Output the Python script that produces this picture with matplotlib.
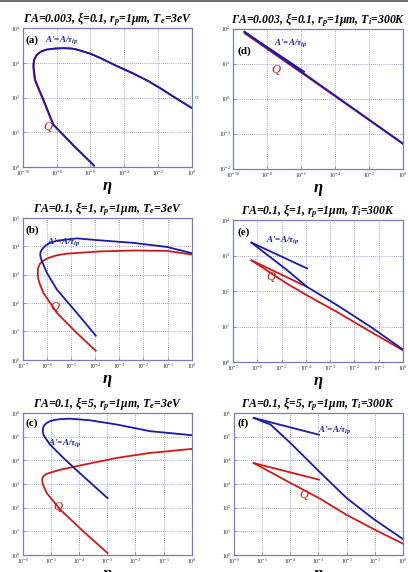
import matplotlib
matplotlib.use('Agg')
import matplotlib.pyplot as plt
import numpy as np
from matplotlib.ticker import LogLocator, NullLocator
from matplotlib.lines import Line2D

plt.rcParams['font.family'] = ['Liberation Serif', 'DejaVu Serif']
plt.rcParams['mathtext.default'] = 'regular'

BLUE = '#1a1aa8'
RED = '#cc1a1a'

# ---- panel (a): GA=0.003, xi=0.1, Te=3eV
a_eta_A = [1.66e-6, 1.0e-7, 6.5e-9, 1.66e-9, 8.0e-10, 5.4e-10, 4.8e-10, 4.3e-10, 4.7e-10, 6.8e-10,
           1.26e-9, 2.6e-9, 7.9e-9, 2.6e-8, 7.9e-8, 1.6e-7, 1.0e-6, 3.8e-6, 3.2e-5, 3.5e-4,
           2.5e-3, 1.35e-2, 0.1, 1.0]
a_A = [1.1, 4.2, 16.6, 87, 200, 324, 500, 794, 1200, 1700,
       2140, 2400, 2570, 2630, 2570, 2400, 1820, 1380, 830, 490,
       302, 186, 100, 50]
a_eta_Q = [1.6e-6, 9.5e-8, 6.1e-9, 1.55e-9, 7.5e-10, 5.1e-10, 4.5e-10, 4.1e-10, 4.5e-10, 6.6e-10,
           1.25e-9, 2.6e-9, 7.9e-9, 2.6e-8, 7.9e-8, 1.6e-7, 1.0e-6, 3.8e-6, 3.2e-5, 3.5e-4,
           2.5e-3, 1.35e-2, 0.1, 1.0]
a_Q = [1.1, 4.2, 16.6, 87, 200, 324, 500, 794, 1200, 1700,
       2140, 2400, 2570, 2630, 2570, 2400, 1820, 1380, 830, 490,
       302, 186, 100, 50]

# ---- panel (d): GA=0.003, xi=0.1, Ti=300K
d_eta_A1 = [4.7e-10, 1.5e-6]
d_A1 = [81, 5.9]
d_eta_A2 = [4.7e-10, 1.5e-6, 1.0]
d_A2 = [81, 5.2, 0.052]
d_eta_Q1 = [5.0e-10, 1.5e-6]
d_Q1 = [74, 5.0]
d_eta_Q2 = [5.0e-10, 1.5e-6, 1.0]
d_Q2 = [74, 4.9, 0.051]

# ---- panel (b): GA=0.1, xi=1, Te=3eV
b_eta_A = [1.05e-4, 1.74e-5, 2.6e-6, 1.0e-6, 6.2e-7, 5.5e-7, 5.25e-7, 5.5e-7, 6.6e-7, 9.0e-7,
           1.35e-6, 2.6e-6, 6.6e-6, 1.74e-5, 1.6e-4, 3.9e-3, 9.3e-2, 1.0]
b_A = [7.1, 44.7, 295, 1150, 2950, 4000, 5130, 6600, 8300, 10900,
       13200, 15800, 17400, 19000, 16200, 13200, 9500, 5750]
b_eta_Q = [1.05e-4, 1.74e-5, 2.6e-6, 7.2e-7, 5.0e-7, 4.47e-7, 4.2e-7, 4.2e-7, 4.5e-7, 5.2e-7,
           6.6e-7, 1.15e-6, 2.5e-6, 6.6e-6, 1.6e-4, 3.9e-3, 9.3e-2, 1.0]
b_Q = [2.1, 8.7, 44.7, 224, 480, 660, 1000, 1500, 1950, 2450,
       3000, 3900, 4800, 5500, 6600, 7100, 6900, 5130]

# ---- panel (e): GA=0.1, xi=1, Ti=300K
e_eta_A1 = [5.75e-7, 1.12e-4]
e_A1 = [2340, 437]
e_eta_A2 = [5.75e-7, 1.7e-5, 1.12e-4, 1.95e-3, 4.7e-2, 1.0]
e_A2 = [2340, 389, 132, 40, 9.8, 2.24]
e_eta_Q1 = [5.75e-7, 1.12e-4]
e_Q1 = [740, 132]
e_eta_Q2 = [5.75e-7, 1.7e-5, 1.12e-4, 1.95e-3, 4.7e-2, 1.0]
e_Q2 = [740, 162, 76, 25.7, 7.1, 2.14]

# ---- panel (c): GA=0.1, xi=5, Te=3eV
c_eta_A = [1.02e-3, 1.41e-4, 2.75e-5, 9.3e-6, 6.2e-6, 5.4e-6, 5.1e-6, 5.15e-6, 5.4e-6, 6.0e-6,
           7.1e-6, 9.3e-6, 1.35e-5, 2.0e-5, 4.8e-5, 2.45e-4, 2.2e-3, 3.3e-2, 1.0]
c_A = [251, 2090, 12600, 45700, 91000, 120000, 170000, 210000, 260000, 320000,
       380000, 450000, 510000, 545000, 575000, 490000, 324000, 170000, 115000]
c_eta_Q = [1.02e-3, 1.41e-4, 2.14e-5, 7.1e-6, 5.6e-6, 5.0e-6, 4.9e-6, 5.0e-6, 5.5e-6, 6.6e-6,
           9.0e-6, 2.14e-5, 1.41e-4, 2.2e-3, 3.3e-2, 1.0]
c_Q = [1.2, 9.8, 81, 407, 760, 1100, 1450, 1800, 2150, 2550,
       2950, 3980, 6460, 12600, 20400, 30200]

# ---- panel (f): GA=0.1, xi=5, Ti=300K
f_eta_A1 = [5.1e-6, 1.05e-3]
f_A1 = [617000, 120000]
f_eta_A2 = [5.1e-6, 2.0e-5, 1.02e-4, 1.05e-3, 1.0e-2, 0.1, 1.0]
f_A2 = [617000, 324000, 53700, 3390, 251, 30, 4.6]
f_eta_Q1 = [5.1e-6, 1.05e-3]
f_Q1 = [7600, 1510]
f_eta_Q2 = [5.1e-6, 1.02e-4, 1.05e-3, 1.0e-2, 0.1, 1.0]
f_Q2 = [7600, 1100, 251, 49, 11.5, 2.95]

titles = [r'ΓA=0.003, ξ=0.1, r$_p$=1μm, T$_e$=3eV',
          r'ΓA=0.003, ξ=0.1, r$_p$=1μm, T$_i$=300K',
          r'ΓA=0.1, ξ=1, r$_p$=1μm, T$_e$=3eV',
          r'ΓA=0.1, ξ=1, r$_p$=1μm, T$_i$=300K',
          r'ΓA=0.1, ξ=5, r$_p$=1μm, T$_e$=3eV',
          r'ΓA=0.1, ξ=5, r$_p$=1μm, T$_i$=300K']
letters = ['(a)', '(d)', '(b)', '(e)', '(c)', '(f)']
xlims = [(1e-10, 1), (1e-10, 1), (1e-7, 1), (1e-7, 1), (1e-6, 1), (1e-6, 1)]
ylims = [(1, 1e4), (1e-2, 1e2), (1, 1e5), (1, 1e4), (1, 1e6), (1, 1e6)]

# axes boxes in figure fraction [left, bottom, width, height]
boxes = [[0.056, 0.708, 0.414, 0.243],
         [0.571, 0.705, 0.417, 0.245],
         [0.056, 0.371, 0.414, 0.248],
         [0.571, 0.367, 0.417, 0.248],
         [0.056, 0.030, 0.414, 0.248],
         [0.573, 0.030, 0.415, 0.248]]
# label positions (axes fraction): letter, A', Q
lab_A = [(0.13, 0.914), (0.24, 0.90), (0.142, 0.83), (0.194, 0.86), (0.148, 0.79), (0.50, 0.88)]
lab_Q = [(0.12, 0.29), (0.225, 0.707), (0.16, 0.373), (0.194, 0.60), (0.178, 0.34), (0.385, 0.42)]
lab_L = [(0.014, 0.914), (0.024, 0.836), (0.016, 0.915), (0.024, 0.915), (0.014, 0.93), (0.02, 0.93)]

fig = plt.figure(figsize=(4.08, 5.72), dpi=100)
fig.add_artist(Line2D([0, 1], [0.998, 0.998], color='#555555', lw=1.2, transform=fig.transFigure))

axs = [fig.add_axes(b) for b in boxes]

# curves: red first then blue on top
axs[0].plot(a_eta_Q, a_Q, color=RED, lw=1.3)
axs[0].plot(a_eta_A, a_A, color=BLUE, lw=1.3)

axs[1].plot(d_eta_Q2, d_Q2, color=RED, lw=1.3)
axs[1].plot(d_eta_Q1, d_Q1, color=RED, lw=1.3)
axs[1].plot(d_eta_A2, d_A2, color=BLUE, lw=1.3)
axs[1].plot(d_eta_A1, d_A1, color=BLUE, lw=1.3)

axs[2].plot(b_eta_Q, b_Q, color=RED, lw=1.3)
axs[2].plot(b_eta_A, b_A, color=BLUE, lw=1.3)

axs[3].plot(e_eta_Q1, e_Q1, color=RED, lw=1.3)
axs[3].plot(e_eta_Q2, e_Q2, color=RED, lw=1.3)
axs[3].plot(e_eta_A1, e_A1, color=BLUE, lw=1.3)
axs[3].plot(e_eta_A2, e_A2, color=BLUE, lw=1.3)

axs[4].plot(c_eta_Q, c_Q, color=RED, lw=1.3)
axs[4].plot(c_eta_A, c_A, color=BLUE, lw=1.3)

axs[5].plot(f_eta_Q1, f_Q1, color=RED, lw=1.3)
axs[5].plot(f_eta_Q2, f_Q2, color=RED, lw=1.3)
axs[5].plot(f_eta_A1, f_A1, color=BLUE, lw=1.3)
axs[5].plot(f_eta_A2, f_A2, color=BLUE, lw=1.3)

for i, ax in enumerate(axs):
    ax.set_xscale('log')
    ax.set_yscale('log')
    ax.set_xlim(*xlims[i])
    ax.set_ylim(*ylims[i])
    if i < 2:
        ax.set_xticks([10.0 ** k for k in range(-10, 1, 2)])
    else:
        ax.xaxis.set_major_locator(LogLocator(base=10, numticks=15))
    ax.yaxis.set_major_locator(LogLocator(base=10, numticks=15))
    ax.xaxis.set_minor_locator(NullLocator())
    ax.yaxis.set_minor_locator(NullLocator())
    ax.tick_params(labelsize=4.2, direction='in', length=2, width=0.5,
                   colors='#7070b8', labelcolor='#333333', pad=1.5)
    for sp in ax.spines.values():
        sp.set_color('#7a7ac0')
        sp.set_linewidth(0.9)
    ax.grid(True, which='major', color='#8080dd', ls=(0, (1, 1.5)), lw=0.6)
    ax.set_axisbelow(True)
    ax.set_title(titles[i], fontsize=8.5, fontweight='bold', fontstyle='italic', pad=4)
    ax.set_xlabel('η', fontsize=12, fontweight='bold', fontstyle='italic', labelpad=0)
    ax.text(*lab_L[i], letters[i], transform=ax.transAxes, fontsize=8, fontweight='bold',
            va='center', ha='left')
    ax.text(*lab_A[i], r"A'=A/τ$_{ip}$", transform=ax.transAxes, fontsize=6.5, fontweight='bold',
            fontstyle='italic', color=BLUE, va='center', ha='left')
    ax.text(*lab_Q[i], 'Q', transform=ax.transAxes, fontsize=9, fontstyle='italic',
            color=RED, va='center', ha='left')

axs[0].text(1.02, 0.5, 'σ', transform=axs[0].transAxes, fontsize=5, color='#555555',
            va='center', ha='left')

fig.savefig('out.png', dpi=100)
